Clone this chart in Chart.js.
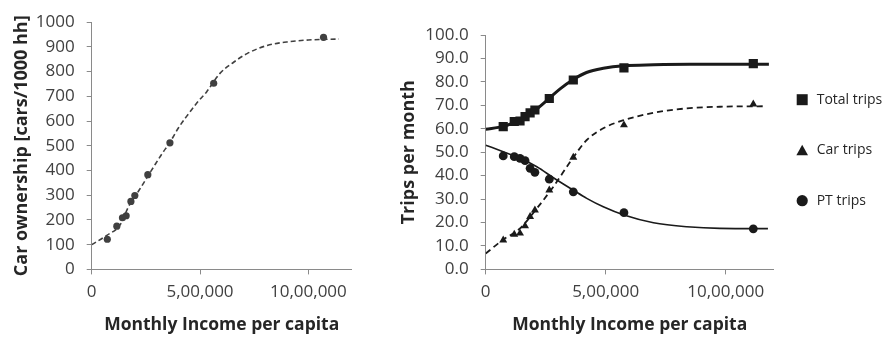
<!DOCTYPE html>
<html>
<head>
<meta charset="utf-8">
<script src="https://cdn.jsdelivr.net/npm/chart.js@4.4.0/dist/chart.umd.min.js"></script>
<style>
  html, body { margin: 0; padding: 0; background: #fff; }
  #wrap { position: relative; width: 886px; height: 338px; }
  #left { position: absolute; left: 0; top: 0; }
  #right { position: absolute; left: 380px; top: 0; }
</style>
</head>
<body>
<div id="wrap">
  <canvas id="left" width="370" height="338"></canvas>
  <canvas id="right" width="506" height="338"></canvas>
</div>
<script>
// Car ownership (left chart)
const ownIncome = [72000, 116000, 142000, 159000, 181000, 199000, 259000, 361000, 563000, 1070000];
const ownValues = [122, 175, 209, 217, 275, 299, 383, 512, 753, 939];
const ownTrendX = [0, 70000, 131000, 169000, 220000, 284000, 323000, 361000, 400000, 438000, 485000, 531000, 592000, 655000, 717000, 810000, 900000, 1000000, 1141000];
const ownTrendY = [100, 138, 180, 252, 322, 412, 466, 514, 572, 619, 673, 719, 793, 838, 873, 906, 920, 928, 932];

// Trips per month (right chart)
const tripIncome = [73000, 119000, 143000, 164000, 185000, 205000, 265000, 365000, 576000, 1115000];
const totalTrips = [60.9, 63.1, 63.3, 65.2, 66.8, 68.0, 72.9, 80.8, 86.0, 87.8];
const carTrips = [12.5, 14.9, 15.4, 18.5, 22.5, 25.3, 33.8, 47.8, 61.6, 70.5];
const ptTrips = [48.4, 48.1, 47.4, 46.4, 43.1, 41.4, 38.5, 33.1, 24.2, 17.3];

const totalTrendX = [0, 73000, 120000, 165000, 205000, 265000, 310000, 365000, 420000, 490000, 576000, 700000, 850000, 1000000, 1180000];
const totalTrendY = [59.8, 61.0, 62.8, 65.0, 67.8, 73.0, 77.0, 81.0, 84.0, 85.8, 86.9, 87.3, 87.5, 87.5, 87.5];
const carTrendX = [0, 73000, 143000, 213000, 282000, 365000, 421000, 490000, 576000, 699000, 838000, 976000, 1156000];
const carTrendY = [6.8, 12.7, 17.5, 26.0, 35.3, 47.8, 55.2, 60.2, 63.7, 66.8, 68.7, 69.4, 69.6];
const ptTrendX = [0, 73000, 143000, 213000, 282000, 365000, 421000, 490000, 576000, 699000, 838000, 976000, 1176000];
const ptTrendY = [53.0, 50.2, 47.4, 43.8, 39.1, 33.8, 30.3, 26.7, 23.2, 19.9, 18.2, 17.5, 17.4];

// Axis ticks
const incomeTicks = [0, 500000, 1000000];
const legendLabels = ['Total trips', 'Car trips', 'PT trips'];
const legendShapes = ['square', 'triangle', 'circle'];

const FONT = '"Open Sans"';
const TICK_COLOR = '#404040';
const TITLE_COLOR = '#262626';
const AXIS_COLOR = '#8a8a8a';

function pairs(xs, ys) {
  return xs.map((x, i) => ({ x: x, y: ys[i] }));
}

// Indian digit grouping: 5,00,000 / 10,00,000
function fmtIN(v) {
  const s = String(Math.round(v));
  if (s.length <= 3) return s;
  const last3 = s.slice(-3);
  const rest = s.slice(0, -3).replace(/\B(?=(\d{2})+(?!\d))/g, ',');
  return rest + ',' + last3;
}

function xScale() {
  return {
    type: 'linear', min: 0, max: 1200000,
    afterFit: s => { s.height = 68.6; },
    afterBuildTicks: s => { s.ticks = incomeTicks.map(v => ({ value: v })); },
    ticks: { callback: fmtIN, color: TICK_COLOR,
             font: { family: FONT, size: 17 }, padding: 8, maxRotation: 0, autoSkip: false },
    grid: { display: true, drawOnChartArea: false, drawTicks: true, tickLength: 5, color: AXIS_COLOR },
    border: { color: AXIS_COLOR, width: 1 },
    title: { display: true, text: 'Monthly Income per capita', color: TITLE_COLOR,
             font: { family: FONT, size: 17.5, weight: 'bold' }, padding: { top: 2, bottom: 2 } }
  };
}

function yScale(max, step, width, title, fmt, titlePad) {
  return {
    type: 'linear', min: 0, max: max,
    afterFit: s => { s.width = width; },
    ticks: { stepSize: step, callback: fmt, color: TICK_COLOR,
             font: { family: FONT, size: 17 }, padding: 12 },
    grid: { display: true, drawOnChartArea: false, drawTicks: true, tickLength: 5, color: AXIS_COLOR },
    border: { color: AXIS_COLOR, width: 1 },
    title: { display: true, text: title, color: TITLE_COLOR,
             font: { family: FONT, size: 18, weight: 'bold' }, padding: { top: titlePad, bottom: 2 } }
  };
}

// Left chart
new Chart(document.getElementById('left'), {
  type: 'scatter',
  data: {
    datasets: [
      { label: 'Car ownership', data: pairs(ownIncome, ownValues), showLine: false,
        pointRadius: 3.6, pointBorderWidth: 0, pointBackgroundColor: '#404040' },
      { label: 'Trend', data: pairs(ownTrendX, ownTrendY), showLine: true, pointRadius: 0,
        borderColor: '#404040', borderWidth: 1.6, borderDash: [5, 3], cubicInterpolationMode: 'monotone' }
    ]
  },
  options: {
    responsive: false, animation: false,
    layout: { padding: { left: 0, right: 18.3, top: 20, bottom: 0 } },
    plugins: { legend: { display: false }, tooltip: { enabled: false } },
    scales: {
      x: xScale(),
      y: yScale(1000, 100, 91.7, 'Car ownership [cars/1000 hh]', v => String(v), 11)
    }
  }
});

// Legend at the right of the trips chart
const sideLegend = {
  id: 'sideLegend',
  afterDraw(chart) {
    const { ctx, chartArea } = chart;
    const mx = chartArea.right + 28.5;
    const mid = (chartArea.top + chartArea.bottom) / 2 - 2;
    ctx.save();
    ctx.font = '14px ' + FONT;
    ctx.textBaseline = 'middle';
    legendLabels.forEach((lab, i) => {
      const y = mid + (i - 1) * 50.5;
      ctx.fillStyle = '#1a1a1a';
      ctx.beginPath();
      if (legendShapes[i] === 'square') {
        ctx.rect(mx - 5.5, y - 5.5, 11, 11);
      } else if (legendShapes[i] === 'triangle') {
        ctx.moveTo(mx, y - 5.5);
        ctx.lineTo(mx + 5.8, y + 5);
        ctx.lineTo(mx - 5.8, y + 5);
        ctx.closePath();
      } else {
        ctx.arc(mx, y, 5.6, 0, Math.PI * 2);
      }
      ctx.fill();
      ctx.fillStyle = '#262626';
      ctx.fillText(lab, mx + 14.5, y);
    });
    ctx.restore();
  }
};

// Right chart
new Chart(document.getElementById('right'), {
  type: 'scatter',
  data: {
    datasets: [
      { label: 'Total trips', data: pairs(tripIncome, totalTrips), showLine: false,
        pointStyle: 'rect', pointRadius: 6.5, pointBorderWidth: 0, pointBackgroundColor: '#1a1a1a' },
      { label: 'Car trips', data: pairs(tripIncome, carTrips), showLine: false,
        pointStyle: 'triangle', pointRadius: 4.6, pointBorderWidth: 0, pointBackgroundColor: '#1a1a1a' },
      { label: 'PT trips', data: pairs(tripIncome, ptTrips), showLine: false,
        pointStyle: 'circle', pointRadius: 4.4, pointBorderWidth: 0, pointBackgroundColor: '#1a1a1a' },
      { label: 'Total fit', data: pairs(totalTrendX, totalTrendY), showLine: true, pointRadius: 0,
        borderColor: '#1a1a1a', borderWidth: 3, cubicInterpolationMode: 'monotone' },
      { label: 'Car fit', data: pairs(carTrendX, carTrendY), showLine: true, pointRadius: 0,
        borderColor: '#1a1a1a', borderWidth: 1.8, borderDash: [6, 4], cubicInterpolationMode: 'monotone' },
      { label: 'PT fit', data: pairs(ptTrendX, ptTrendY), showLine: true, pointRadius: 0,
        borderColor: '#1a1a1a', borderWidth: 1.6, cubicInterpolationMode: 'monotone' }
    ]
  },
  options: {
    responsive: false, animation: false,
    layout: { padding: { left: 0, right: 112.3, top: 35, bottom: 0 } },
    plugins: { legend: { display: false }, tooltip: { enabled: false } },
    scales: {
      x: xScale(),
      y: yScale(100, 10, 105.7, 'Trips per month', v => Number(v).toFixed(1), 18)
    }
  },
  plugins: [sideLegend]
});
</script>
</body>
</html>
